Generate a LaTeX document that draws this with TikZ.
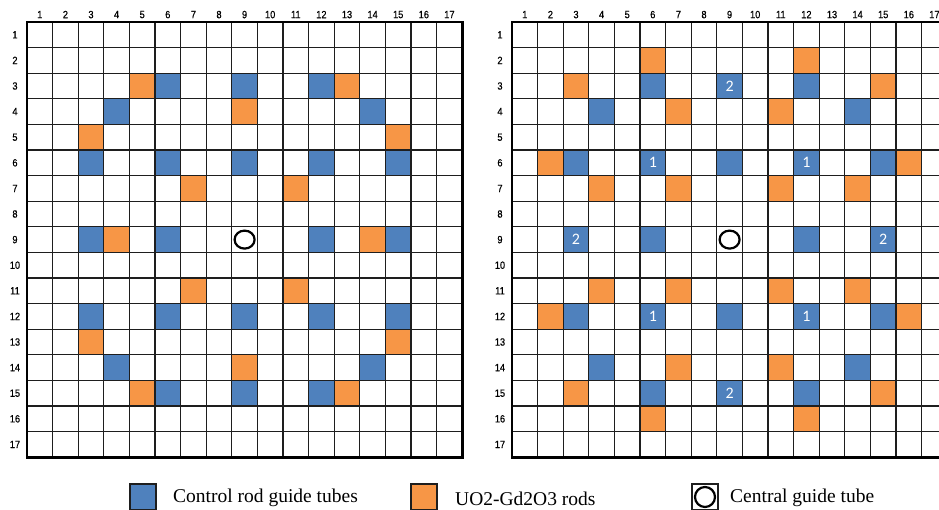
\documentclass[tikz,border=0pt]{standalone}
\usepackage{fontspec}
\usetikzlibrary{shapes.geometric}
\setmainfont{Liberation Serif}
\newfontfamily\lblfont[FakeStretch=0.88,FakeBold=0.6]{Liberation Sans}
\newfontfamily\numfont{Carlito}
\definecolor{ctblue}{HTML}{4F81BD}
\definecolor{uoorange}{HTML}{F79646}
\definecolor{gridcol}{HTML}{1E1E1E}
\tikzset{
  gridline/.style={draw=gridcol, line width=1.2pt},
  border/.style={draw=black, line width=2.8pt},
  axislabel/.style={font=\lblfont\fontsize{10.5}{11}\selectfont, inner sep=0pt, text=black},
  cellnum/.style={font=\numfont\fontsize{16}{18}\selectfont, text=white, inner sep=0pt},
  tubering/.style={draw=black, line width=2.2pt},
  legbox/.style={draw=gridcol, line width=1.3pt, minimum size=26pt, inner sep=0pt},
  legtext/.style={font=\fontsize{19.5}{22}\selectfont, anchor=base west, inner sep=0pt},
}
\newcommand{\fuelaxes}[1]{%
  \foreach \i in {1,...,16} {
    \draw[gridline] (\i,0) -- (\i,17);
    \draw[gridline] (0,\i) -- (17,\i);
  }
  \draw[border] (0,0) rectangle (17,17);
  \foreach \i in {1,...,17} {
    \node[axislabel] (#1c\i) at (\i-0.5,-0.29) {\i};
    \node[axislabel] (#1r\i) at (-0.47,\i-0.5) {\i};
  }
}
\begin{document}
\begin{tikzpicture}[x=1pt,y=-1pt]
\clip (0,0) rectangle (939,509);
\fill[white] (0,0) rectangle (939,509);

% ---------------- left lattice ----------------
\begin{scope}[shift={(27,22)}, x=25.6pt, y=-25.6pt]
  \foreach \r/\c in {3/6,3/9,3/12,4/4,4/14,6/3,6/6,6/9,6/12,6/15,
                     9/3,9/6,9/12,9/15,12/3,12/6,12/9,12/12,12/15,
                     14/4,14/14,15/6,15/9,15/12}
    \fill[ctblue] (\c-1,\r-1) rectangle (\c,\r);
  \foreach \r/\c in {3/5,3/13,4/9,5/3,5/15,7/7,7/11,9/4,9/14,
                     11/7,11/11,13/3,13/15,14/9,15/5,15/13}
    \fill[uoorange] (\c-1,\r-1) rectangle (\c,\r);
  \fuelaxes{L}
  \node[tubering, ellipse, minimum width=20pt, minimum height=18pt, inner sep=0pt] (Lcentre) at (8.5,8.5) {};
\end{scope}

% ---------------- right lattice ----------------
\begin{scope}[shift={(512,22)}, x=25.6pt, y=-25.6pt]
  \foreach \r/\c in {3/6,3/9,3/12,4/4,4/14,6/3,6/6,6/9,6/12,6/15,
                     9/3,9/6,9/12,9/15,12/3,12/6,12/9,12/12,12/15,
                     14/4,14/14,15/6,15/9,15/12}
    \fill[ctblue] (\c-1,\r-1) rectangle (\c,\r);
  \foreach \r/\c in {2/6,2/12,3/3,3/15,4/7,4/11,6/2,6/16,
                     7/4,7/7,7/11,7/14,11/4,11/7,11/11,11/14,
                     12/2,12/16,14/7,14/11,15/3,15/15,16/6,16/12}
    \fill[uoorange] (\c-1,\r-1) rectangle (\c,\r);
  \fuelaxes{R}
  \node[tubering, ellipse, minimum width=20pt, minimum height=18pt, inner sep=0pt] (Rcentre) at (8.5,8.5) {};
  \foreach \r/\c/\n in {3/9/2,6/6/1,6/12/1,9/3/2,9/15/2,12/6/1,12/12/1,15/9/2}
    \node[cellnum] (Rn\r-\c) at (\c-0.5,\r-0.5) {\n};
\end{scope}

% ---------------- legend ----------------
\node[legbox, fill=ctblue] (legA) at (143,497) {};
\node[legtext] (legAt) at (173,502) {Control rod guide tubes};
\node[legbox, fill=uoorange] (legB) at (424,497) {};
\node[legtext] (legBt) at (455,505) {UO2-Gd2O3 rods};
\node[legbox, fill=white] (legC) at (705,497) {};
\node[tubering, circle, minimum size=20pt, inner sep=0pt] (legCr) at (705,497) {};
\node[legtext] (legCt) at (730,502) {Central guide tube};
\end{tikzpicture}
\end{document}
